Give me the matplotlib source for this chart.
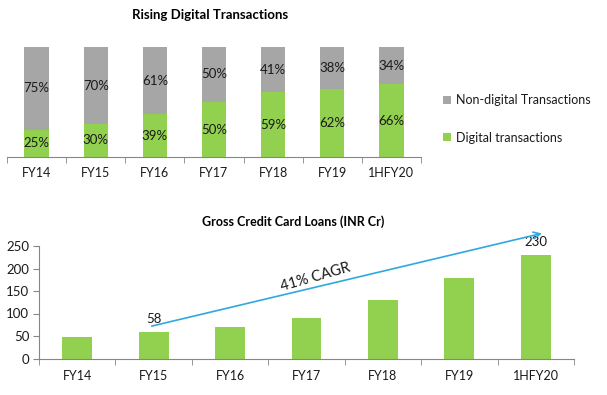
import matplotlib
matplotlib.use("Agg")
import matplotlib.pyplot as plt
import numpy as np

categories = ["FY14", "FY15", "FY16", "FY17", "FY18", "FY19", "1HFY20"]
digital = [25, 30, 39, 50, 59, 62, 66]
non_digital = [75, 70, 61, 50, 41, 38, 34]
loans = [48, 58, 70, 90, 130, 178, 230]
loan_labels = {1: "58", 6: "230"}
yticks_bottom = [0, 50, 100, 150, 200, 250]

GREEN = "#92D050"
GRAY = "#A6A6A6"
AXC = "#868686"
ARROW = "#2FA8E0"
TXT = "#1A1A1A"

plt.rcParams["font.family"] = ["Lato", "DejaVu Sans"]

W, H = 607, 395
fig = plt.figure(figsize=(W / 100, H / 100), dpi=100)


def frac(x0, y_top, x1, y_bot):
    return [x0 / W, 1 - y_bot / H, (x1 - x0) / W, (y_bot - y_top) / H]


x = np.arange(len(categories))

# ---------- Top chart ----------
ax1 = fig.add_axes(frac(7, 47, 421, 157))
b1 = ax1.bar(x, digital, width=0.41, color=GREEN, label="Digital transactions")
b2 = ax1.bar(x, non_digital, width=0.41, bottom=digital, color=GRAY,
             label="Non-digital Transactions")
for i in range(len(categories)):
    ax1.text(x[i], digital[i] / 2, f"{digital[i]}%", ha="center", va="center",
             fontsize=9.5, color=TXT)
    ax1.text(x[i], digital[i] + non_digital[i] / 2, f"{non_digital[i]}%",
             ha="center", va="center", fontsize=9.5, color=TXT)
ax1.set_xlim(-0.5, len(categories) - 0.5)
ax1.set_ylim(0, 100)
for s in ["top", "right", "left"]:
    ax1.spines[s].set_visible(False)
ax1.spines["bottom"].set_color(AXC)
ax1.set_yticks([])
ax1.set_xticks(x)
ax1.set_xticklabels(categories, fontsize=9, color=TXT)
ax1.tick_params(axis="x", which="major", length=0, pad=7)
ax1.set_xticks(np.arange(-0.5, len(categories), 1.0), minor=True)
ax1.tick_params(axis="x", which="minor", length=4, color=AXC, direction="out")

leg = ax1.legend(handles=[b2, b1], loc="center left",
                 bbox_to_anchor=(443 / W, 1 - 119 / H),
                 bbox_transform=fig.transFigure, frameon=False,
                 handlelength=0.6, handleheight=0.6, handletextpad=0.4,
                 labelspacing=2.05, borderpad=0, borderaxespad=0,
                 fontsize=9)
for t in leg.get_texts():
    t.set_color(TXT)

fig.text(210 / W, 1 - 15 / H, "Rising Digital Transactions", ha="center",
         va="center", fontsize=9.5, fontweight="bold", color="black")

# ---------- Bottom chart ----------
ax2 = fig.add_axes(frac(39, 246, 574, 358.5))
ax2.bar(x, loans, width=0.39, color=GREEN)
for i, lab in loan_labels.items():
    ax2.annotate(lab, (x[i], loans[i]), xytext=(0, 5), textcoords="offset points",
                 ha="center", va="bottom", fontsize=9.5, color=TXT,
                 annotation_clip=False)
ax2.set_xlim(-0.5, len(categories) - 0.5)
ax2.set_ylim(0, 250)
ax2.set_yticks(yticks_bottom)
ax2.tick_params(axis="y", length=4, color=AXC, labelsize=9.5, labelcolor=TXT, pad=3)
for s in ["top", "right"]:
    ax2.spines[s].set_visible(False)
ax2.spines["bottom"].set_color(AXC)
ax2.spines["left"].set_color(AXC)
ax2.set_xticks(x)
ax2.set_xticklabels(categories, fontsize=9, color=TXT)
ax2.tick_params(axis="x", which="major", length=0, pad=8)
ax2.set_xticks(np.arange(-0.5, len(categories), 1.0), minor=True)
ax2.tick_params(axis="x", which="minor", length=4, color=AXC, direction="out")

ax2.annotate("", xy=(6.08, 278), xytext=(0.975, 72),
             arrowprops=dict(arrowstyle="->", color=ARROW, lw=1.2,
                             shrinkA=0, shrinkB=0, mutation_scale=12),
             annotation_clip=False)
ax2.text(3.12, 180, "41% CAGR", rotation=16, ha="center", va="center",
         fontsize=10.5, color=TXT, rotation_mode="anchor")

fig.text(293 / W, 1 - 222 / H, "Gross Credit Card Loans (INR Cr)", ha="center",
         va="center", fontsize=9, fontweight="bold", color="black")

fig.savefig("out.png", dpi=100)
